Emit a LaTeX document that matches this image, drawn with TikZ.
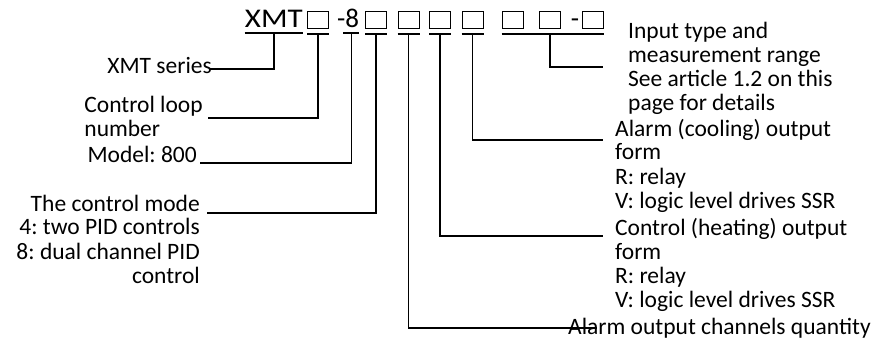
\documentclass[tikz,border=0pt]{standalone}
\usepackage{fontspec}
\setmainfont{Carlito}
\frenchspacing
\usetikzlibrary{positioning}

\begin{document}
\begin{tikzpicture}[x=1pt,y=-1pt,
    lbl/.style={font=\fontsize{23.5}{24}\selectfont,inner sep=0pt},
    code/.style={font=\fontsize{27}{28}\selectfont,inner sep=0pt},
    slot/.style={draw,line width=1pt,minimum width=21pt,minimum height=17pt,inner sep=0pt},
    lead/.style={line width=1.5pt}]
  \useasboundingbox (0,0) rectangle (878,339);
  % model code
  \node[code,anchor=base east,xscale=1.15] (xmt) at (303,28) {XMT};
  \node[code,anchor=base west] (eight) at (337,28) {-8};
  \node[code,anchor=base] (dash) at (575,28) {-};
  \foreach \n/\x in {1/318,2/376,3/408.5,4/440,5/472.5,6/512.5,7/550,8/592.5}
    \node[slot] (b\n) at (\x,20.5) {};
  % underlines
  \draw[lead] ([yshift=-5pt]xmt.base west) -- ([yshift=-5pt]xmt.base east);
  \draw[lead] ([xshift=6pt,yshift=-5pt]eight.base west) -- ([yshift=-5pt]eight.base east);
  \foreach \n in {1,2,3,4,5}
    \draw[lead] ([yshift=-4.5pt]b\n.south west) -- ([yshift=-4.5pt]b\n.south east);
  \draw[lead] ([yshift=-4.5pt]b6.south west) -- ([yshift=-4.5pt]b8.south east);
  % left labels (base = last line)
  \node[lbl,anchor=base east] (series) at (212,74) {XMT series};
  \node[lbl,anchor=base east,align=left] (loop) at (203,137) {Control loop\\number};
  \node[lbl,anchor=base east] (model) at (197,163) {Model: 800};
  \node[lbl,anchor=base east,align=right] (mode) at (200,283)
    {The control mode\\4: two PID controls\\8: dual channel PID\\control};
  % right labels
  \node[lbl,anchor=base west,align=left] (inp) at (628,111)
    {Input type and\\measurement range\\See article 1.2 on this\\page for details};
  \node[lbl,anchor=base west,align=left] (cool) at (615,208)
    {Alarm (cooling) output\\form\\R: relay\\V: logic level drives SSR};
  \node[lbl,anchor=base west,align=left] (heat) at (615,307)
    {Control (heating) output\\form\\R: relay\\V: logic level drives SSR};
  \node[lbl,anchor=base west] (chan) at (568,334) {Alarm output channels quantity};
  % leaders
  \draw[lead] ([yshift=-5pt]xmt.base) |- ([xshift=-2pt,yshift=5pt]series.base east);
  \draw[lead] ([yshift=-4.5pt]b1.south) |- ([xshift=5pt,yshift=19pt]loop.base east);
  \draw[lead] ([xshift=-8pt,yshift=-5pt]eight.base east) |- ([xshift=3pt]model.base east);
  \draw[lead] ([yshift=-4.5pt]b2.south) |- ([xshift=7pt,yshift=70pt]mode.base east);
  \draw[lead] ([yshift=-4.5pt]b3.south) |- ([xshift=29pt,yshift=6pt]chan.base west);
  \draw[lead] ([yshift=-4.5pt]b4.south) |- ([xshift=-12pt,yshift=71pt]heat.base west);
  \draw[lead] ([yshift=-4.5pt]b5.south) |- ([xshift=-12pt,yshift=68pt]cool.base west);
  \draw[lead] ([yshift=-4.5pt]b7.south) |- ([xshift=-25pt,yshift=44pt]inp.base west);
\end{tikzpicture}
\end{document}
